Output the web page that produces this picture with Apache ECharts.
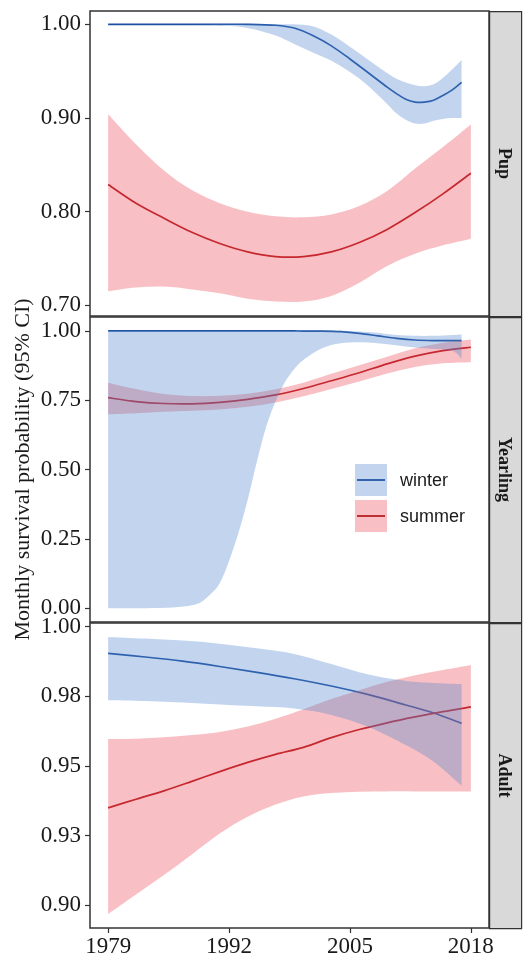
<!DOCTYPE html>
<html>
<head>
<meta charset="utf-8">
<script src="https://cdn.jsdelivr.net/npm/echarts@6/dist/echarts.min.js"></script>
<style>
  html, body { margin: 0; padding: 0; background: #fff; }
  #chart { width: 523px; height: 957px; }
</style>
</head>
<body>
<div id="chart"></div>
<script>
// tick marks and labels
const yearTicks = [1979, 1992, 2005, 2018];
const pupTicks = [0.70, 0.80, 0.90, 1.00];
const pupLabels = ['0.70', '0.80', '0.90', '1.00'];
const yearlingTicks = [0, 0.25, 0.5, 0.75, 1.0];
const yearlingLabels = ['0.00', '0.25', '0.50', '0.75', '1.00'];
const adultTicks = [0.9, 0.925, 0.95, 0.975, 1.0];
const adultLabels = ['0.90', '0.93', '0.95', '0.98', '1.00'];
const panelNames = ['Pup', 'Yearling', 'Adult'];

// Pup
const pupWinterYears = [1979, 1983, 1987, 1991, 1994, 1997, 1999, 2001, 2003, 2005, 2007, 2009, 2010, 2011, 2012, 2013, 2014, 2015, 2016, 2017];
const pupWinterMid = [1.000, 1.000, 1.000, 1.000, 1.000, 0.999, 0.996, 0.988, 0.977, 0.963, 0.948, 0.933, 0.926, 0.920, 0.917, 0.917, 0.919, 0.924, 0.930, 0.938];
const pupWinterLo = [1.000, 1.000, 1.000, 0.999, 0.996, 0.988, 0.979, 0.970, 0.961, 0.949, 0.934, 0.915, 0.905, 0.898, 0.894, 0.894, 0.897, 0.899, 0.900, 0.900];
const pupWinterHi = [1.000, 1.000, 1.000, 1.000, 1.000, 1.000, 1.000, 0.998, 0.989, 0.976, 0.962, 0.948, 0.942, 0.938, 0.935, 0.934, 0.936, 0.943, 0.952, 0.962];
const pupSummerYears = [1979, 1982, 1985, 1988, 1991, 1994, 1997, 2000, 2003, 2006, 2009, 2012, 2015, 2018];
const pupSummerMid = [0.829, 0.809, 0.793, 0.778, 0.766, 0.757, 0.752, 0.752, 0.757, 0.767, 0.781, 0.799, 0.819, 0.841];
const pupSummerLo = [0.715, 0.719, 0.720, 0.717, 0.713, 0.707, 0.704, 0.704, 0.710, 0.724, 0.742, 0.755, 0.764, 0.771];
const pupSummerHi = [0.904, 0.872, 0.844, 0.823, 0.809, 0.800, 0.795, 0.794, 0.797, 0.806, 0.822, 0.846, 0.869, 0.893];

// Yearling
const yrlWinterYears = [1979, 1983, 1986, 1988, 1989, 1990, 1991, 1992, 1993, 1994, 1995, 1996, 1997, 1998, 1999, 2000, 2002, 2004, 2006, 2008, 2010, 2012, 2014, 2016, 2017];
const yrlWinterMid = [1, 1, 1, 1, 1, 1, 1, 1, 1, 1, 1, 1, 1, 1, 1, 0.999, 0.999, 0.997, 0.991, 0.982, 0.973, 0.967, 0.965, 0.965, 0.965];
const yrlWinterLo = [0, 0, 0.002, 0.010, 0.022, 0.050, 0.090, 0.170, 0.270, 0.390, 0.530, 0.655, 0.745, 0.815, 0.862, 0.895, 0.937, 0.955, 0.959, 0.955, 0.948, 0.940, 0.935, 0.928, 0.900];
const yrlWinterHi = [1, 1, 1, 1, 1, 1, 1, 1, 1, 1, 1, 1, 1, 1, 1, 1, 1, 1, 0.998, 0.993, 0.985, 0.982, 0.982, 0.985, 0.987];
const yrlSummerYears = [1979, 1982, 1985, 1988, 1991, 1994, 1997, 2000, 2003, 2006, 2009, 2012, 2015, 2018];
const yrlSummerMid = [0.759, 0.745, 0.738, 0.737, 0.742, 0.753, 0.769, 0.792, 0.820, 0.849, 0.881, 0.909, 0.929, 0.941];
const yrlSummerLo = [0.699, 0.703, 0.708, 0.712, 0.716, 0.726, 0.742, 0.764, 0.790, 0.817, 0.846, 0.870, 0.883, 0.887];
const yrlSummerHi = [0.813, 0.790, 0.772, 0.765, 0.766, 0.773, 0.789, 0.813, 0.845, 0.876, 0.907, 0.937, 0.957, 0.969];

// Adult
const adtWinterYears = [1979, 1983, 1987, 1991, 1995, 1999, 2003, 2007, 2011, 2014, 2017];
const adtWinterMid = [0.9904, 0.9891, 0.9876, 0.9857, 0.9836, 0.9813, 0.9787, 0.9756, 0.9719, 0.9690, 0.9653];
const adtWinterLo = [0.9736, 0.9733, 0.9728, 0.9721, 0.9714, 0.9706, 0.9683, 0.9640, 0.9575, 0.9515, 0.9429];
const adtWinterHi = [0.9963, 0.9957, 0.9950, 0.9939, 0.9922, 0.9902, 0.9866, 0.9828, 0.9805, 0.9798, 0.9794];
const adtSummerYears = [1979, 1982, 1985, 1988, 1991, 1994, 1997, 2000, 2003, 2006, 2009, 2012, 2015, 2018];
const adtSummerMid = [0.9350, 0.9381, 0.9411, 0.9445, 0.9480, 0.9513, 0.9542, 0.9567, 0.9602, 0.9631, 0.9655, 0.9676, 0.9695, 0.9712];
const adtSummerLo = [0.8969, 0.9039, 0.9109, 0.9183, 0.9258, 0.9318, 0.9362, 0.9391, 0.9403, 0.9408, 0.9409, 0.9409, 0.9409, 0.9409];
const adtSummerHi = [0.9597, 0.9598, 0.9603, 0.9611, 0.9622, 0.9642, 0.9670, 0.9704, 0.9740, 0.9772, 0.9802, 0.9826, 0.9844, 0.9862];

const BLUE = '#1b4f9f';
const RED = '#b3161c';
const BLUE_FILL = 'rgba(84,135,206,0.35)';
const RED_FILL = 'rgba(235,75,86,0.35)';
const SERIF = 'Liberation Serif';

const panels = [
  { top: 11, min: 0.6886, max: 1.0142, ticks: pupTicks, labels: pupLabels,
    w: [pupWinterYears, pupWinterMid, pupWinterLo, pupWinterHi],
    s: [pupSummerYears, pupSummerMid, pupSummerLo, pupSummerHi] },
  { top: 317, min: -0.05, max: 1.05, ticks: yearlingTicks, labels: yearlingLabels,
    w: [yrlWinterYears, yrlWinterMid, yrlWinterLo, yrlWinterHi],
    s: [yrlSummerYears, yrlSummerMid, yrlSummerLo, yrlSummerHi] },
  { top: 623, min: 0.8919, max: 1.0013, ticks: adultTicks, labels: adultLabels,
    w: [adtWinterYears, adtWinterMid, adtWinterLo, adtWinterHi],
    s: [adtSummerYears, adtSummerMid, adtSummerLo, adtSummerHi] }
];
const PANEL_H = 305;

// smooth curve through pixel points (catmull-rom as cubic beziers)
function curve(pts) {
  let d = '';
  for (let i = 0; i < pts.length - 1; i++) {
    const p0 = pts[i - 1] || pts[i], p1 = pts[i], p2 = pts[i + 1], p3 = pts[i + 2] || p2;
    const c1 = [p1[0] + (p2[0] - p0[0]) / 6, p1[1] + (p2[1] - p0[1]) / 6];
    const c2 = [p2[0] - (p3[0] - p1[0]) / 6, p2[1] - (p3[1] - p1[1]) / 6];
    d += ' C' + c1[0] + ',' + c1[1] + ' ' + c2[0] + ',' + c2[1] + ' ' + p2[0] + ',' + p2[1];
  }
  return d;
}

// fitted line, positions from the axes via api.coord
function trend(k, xs, ys, color, z) {
  return {
    type: 'custom', xAxisIndex: k, yAxisIndex: k, z: z, silent: true, clip: true,
    data: xs.map((x, i) => [x, ys[i]]),
    encode: { x: 0, y: 1 },
    renderItem: function (params, api) {
      if (params.dataIndex !== 0) return null;
      const pts = xs.map((x, i) => api.coord([x, ys[i]]));
      const d = 'M' + pts[0][0] + ',' + pts[0][1] + curve(pts);
      return { type: 'path', shape: { pathData: d }, style: { fill: null, stroke: color, lineWidth: 1.7 } };
    }
  };
}

// confidence band drawn as one path
function ribbon(k, xs, lo, hi, fill, z) {
  return {
    type: 'custom', xAxisIndex: k, yAxisIndex: k, z: z, silent: true, clip: true,
    data: xs.map((x, i) => [x, lo[i], hi[i]]),
    encode: { x: 0, y: [1, 2] },
    renderItem: function (params, api) {
      if (params.dataIndex !== 0) return null;
      const up = xs.map((x, i) => api.coord([x, hi[i]]));
      const dn = xs.map((x, i) => api.coord([x, lo[i]])).reverse();
      const d = 'M' + up[0][0] + ',' + up[0][1] + curve(up) +
        ' L' + dn[0][0] + ',' + dn[0][1] + curve(dn) + ' Z';
      return { type: 'path', shape: { pathData: d }, style: { fill: fill } };
    }
  };
}

const grid = [], xAxis = [], yAxis = [], series = [], graphic = [];

panels.forEach((p, k) => {
  grid.push({ left: 90, top: p.top, width: 399, height: PANEL_H, show: true, outerBoundsMode: 'none',
    borderColor: '#333', borderWidth: 1.5, backgroundColor: '#fff' });
  const last = k === panels.length - 1;
  xAxis.push({
    type: 'value', gridIndex: k, min: 1977.05, max: 2019.95,
    axisLine: { show: false },
    splitLine: { show: false },
    axisTick: { show: last, length: 5, lineStyle: { color: '#333', width: 1.2 }, customValues: yearTicks },
    axisLabel: { show: last, customValues: yearTicks, margin: 7, fontFamily: SERIF, fontSize: 23, color: '#1a1a1a',
      formatter: v => String(Math.round(v)) }
  });
  yAxis.push({
    type: 'value', gridIndex: k, min: p.min, max: p.max,
    axisLine: { show: false },
    splitLine: { show: false },
    axisTick: { show: true, length: 5, lineStyle: { color: '#333', width: 1.2 }, customValues: p.ticks },
    axisLabel: { customValues: p.ticks, margin: 9, fontFamily: SERIF, fontSize: 23, color: '#1a1a1a',
      formatter: v => {
        const i = p.ticks.findIndex(t => Math.abs(t - v) < 1e-6);
        return i >= 0 ? p.labels[i] : '';
      } }
  });

  // lines first, ribbons drawn over them
  series.push(trend(k, p.w[0], p.w[1], BLUE, 2));
  series.push(trend(k, p.s[0], p.s[1], RED, 2));
  series.push(ribbon(k, p.s[0], p.s[2], p.s[3], RED_FILL, 3));
  series.push(ribbon(k, p.w[0], p.w[2], p.w[3], BLUE_FILL, 4));

  // facet strip
  graphic.push({ type: 'rect', left: 489, top: p.top, z: 10,
    shape: { width: 32, height: PANEL_H }, style: { fill: '#d9d9d9', stroke: '#333', lineWidth: 1.2 } });
  graphic.push({ type: 'text', x: 504, y: p.top + PANEL_H / 2, rotation: -Math.PI / 2, z: 11,
    style: { text: panelNames[k], font: 'bold 18px "Liberation Serif"', fill: '#1a1a1a', align: 'center', verticalAlign: 'middle' } });
});

// y axis title
graphic.push({ type: 'text', x: 23, y: 469.5, rotation: Math.PI / 2, z: 11,
  style: { text: 'Monthly survival probability (95% CI)', font: '22px "Liberation Serif"', fill: '#1a1a1a', align: 'center', verticalAlign: 'middle' } });

// legend in the Yearling panel
[['winter', BLUE, BLUE_FILL, 464], ['summer', RED, RED_FILL, 500]].forEach(([label, col, fill, y]) => {
  graphic.push({ type: 'rect', left: 355, top: y, z: 12, shape: { width: 32, height: 32 }, style: { fill: fill } });
  graphic.push({ type: 'line', z: 13, shape: { x1: 357, y1: y + 16, x2: 385, y2: y + 16 }, style: { stroke: col, lineWidth: 1.7 } });
  graphic.push({ type: 'text', x: 400, y: y + 17, z: 13,
    style: { text: label, font: '18px "Liberation Sans"', fill: '#1a1a1a', align: 'left', verticalAlign: 'middle' } });
});

const chart = echarts.init(document.getElementById('chart'), null, { renderer: 'canvas' });
chart.setOption({
  animation: false,
  backgroundColor: '#fff',
  grid, xAxis, yAxis, series, graphic
});
</script>
</body>
</html>
